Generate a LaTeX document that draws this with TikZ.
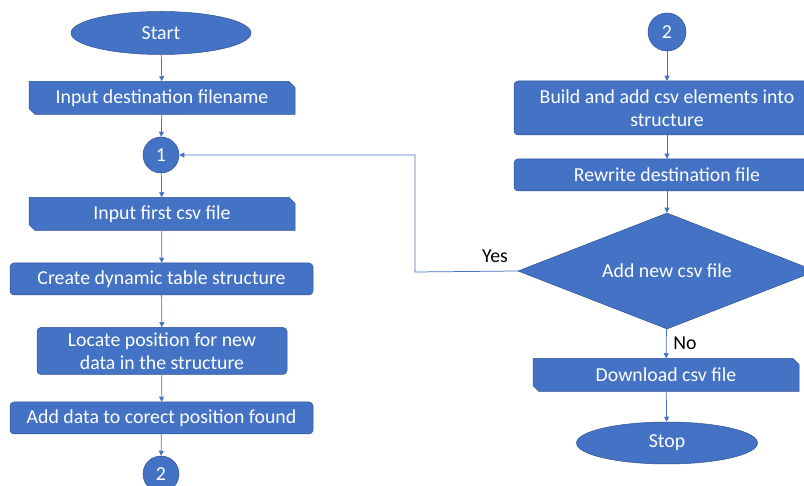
\documentclass[tikz,border=0pt]{standalone}
\usepackage{fontspec}
\setmainfont{Carlito}
\usetikzlibrary{shapes.geometric,shapes.misc,arrows.meta}
\definecolor{flowblue}{HTML}{4472C4}
\definecolor{flowedge}{HTML}{2F528F}

\begin{document}
\begin{tikzpicture}[
      x = 1pt, y = -1pt,
      every node/.style = {
        text = white, inner sep = 1pt, font = \fontsize{19.8}{23}\selectfont},
      every path/.style = {flowblue, line width = .75pt},
      proc/.style = {
        rectangle, rounded corners = 4pt, fill = flowblue, draw = flowedge,
        line width = .5pt, minimum height = 32pt},
      io/.style = {
        chamfered rectangle, chamfered rectangle corners = {north east, south west},
        chamfered rectangle xsep = 3pt, chamfered rectangle ysep = 3pt,
        fill = flowblue, draw = flowedge, line width = .5pt,
        minimum width = 266pt, minimum height = 33pt},
      term/.style = {
        ellipse, fill = flowblue, draw = flowedge, line width = .5pt,
        minimum width = 180pt, minimum height = 43pt},
      conn/.style = {
        circle, fill = flowblue, draw = flowedge, line width = .5pt,
        minimum size = 36pt, inner sep = 0pt},
      decide/.style = {
        diamond, aspect = 2.5, fill = flowblue, draw = flowedge, line width = .5pt,
        minimum width = 298pt, minimum height = 116pt, inner sep = 0pt},
      lbl/.style = {text = black},
      arr/.style = {-{Triangle[length = 5pt, width = 5pt]}}
      ]
    \useasboundingbox (0,0) rectangle (804,486);

    \node[term] (start) at (161,33) {Start}; % 0
    \node[io] (dest) at (162,98) {Input destination filename}; % 1
    \node[conn] (one) at (161,155) {1}; % 2
    \node[io] (first) at (162,214) {Input first csv file}; % 3
    \node[proc, minimum width = 303pt] (table) at (161.5,279) {Create dynamic table structure}; % 4
    \node[proc, minimum width = 250pt, minimum height = 47pt, align = center] (locate) at (162,351) {Locate position for new\\data in the structure}; % 5
    \node[proc, minimum width = 303pt] (add) at (161.5,418) {Add data to corect position found}; % 6
    \node[conn] (twoA) at (161,474) {2}; % 7
    \node[conn, minimum size = 38pt] (twoB) at (667,32) {2}; % 8
    \node[proc, minimum width = 306pt, minimum height = 54pt, align = center] (build) at (667,108) {Build and add csv elements into\\structure}; % 9
    \node[proc, minimum width = 306pt] (rewrite) at (667,175) {Rewrite destination file}; % 10
    \node[decide] (more) at (667,271) {Add new csv file}; % 11
    \node[io] (download) at (666,375) {Download csv file}; % 12
    \node[term, minimum width = 181pt, minimum height = 42pt] (stop) at (667,443) {Stop}; % 13
    \node[lbl] (yes) at (495,256) {Yes};
    \node[lbl] (no) at (685,343) {No};
    \coordinate (back) at (415,272);

    \draw[arr] (start)--(dest);
    \draw[arr] (dest)--(one);
    \draw[arr] (one)--(first);
    \draw[arr] (first)--(table);
    \draw[arr] (table)--(locate);
    \draw[arr] (locate)--(add);
    \draw[arr] (add)--(twoA);
    \draw[arr] (twoB)--(build);
    \draw[arr] (build)--(rewrite);
    \draw[arr] (rewrite)--(more);
    \draw[arr] (more)--(download);
    \draw[arr] (download)--(stop);
    \draw[arr] (more.west)--(back)|-(one.east);
  \end{tikzpicture}
\end{document}
